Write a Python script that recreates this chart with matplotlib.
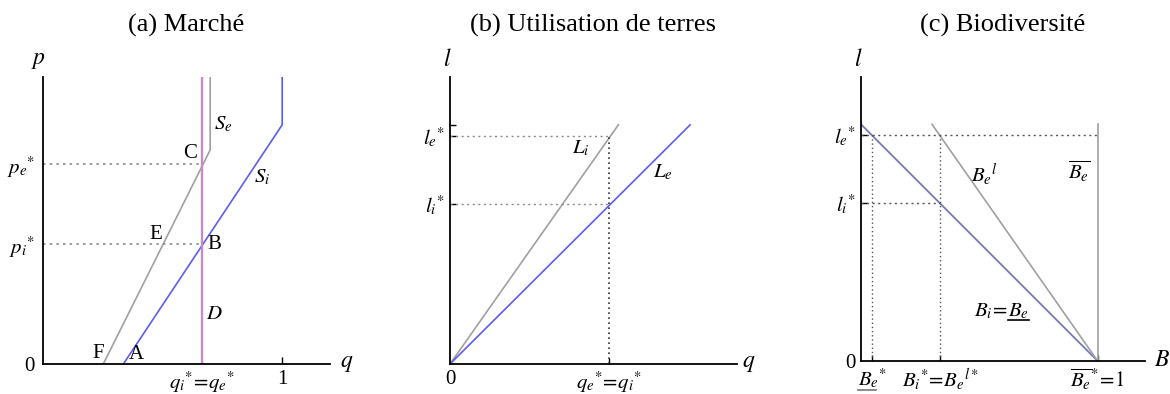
import numpy as np
import matplotlib
matplotlib.use("Agg")
import matplotlib.pyplot as plt

plt.rcParams['font.family'] = ['Liberation Serif', 'DejaVu Serif']
plt.rcParams['mathtext.fontset'] = 'stix'

# (a) market
q_star = 0.665
p_e_star = 0.835
p_i_star = 0.5
se_q = [0.252, 0.699, 0.699]
se_p = [0.0, 0.895, 1.2]
si_q = [0.336, 1.0, 1.0]
si_p = [0.0, 1.0, 1.2]
dem_q = [q_star, q_star]
dem_p = [0.0, 1.2]

# (b) land use
l_e_star = 0.954
l_i_star = 0.669
li_q = [0.0, 0.704]
li_l = [0.0, 1.0]
le_q = [0.0, 1.004]
le_l = [0.0, 1.0]

# (c) biodiversity
bi_B = [0.0, 1.0]
bi_l = [1.0, 0.0]
bel_B = [0.30, 1.0]
bel_l = [1.0, 0.0]
bbar_B = [1.0, 1.0]
bbar_l = [0.0, 1.0]
B_e_star = 0.048
B_i_star = 0.335
c_l_e_star = 0.955
c_l_i_star = 0.669

GREY = '#a0a0a0'
BLUE = '#5c5cf2'
PURPLE = '#c68cca'
SLATE = '#7878b8'
DOT = '#8a8a8a'
FS = 15
TFS = 19

fig = plt.figure(figsize=(11.7, 3.94), dpi=100)
W, H = 1170, 394


def make_ax(x0, y0, w, h):
    ax = fig.add_axes([x0 / W, (H - y0) / H, w / W, h / H])
    ax.set_xlim(0, 1.2)
    ax.set_ylim(0, 1.2)
    for s in ['top', 'right']:
        ax.spines[s].set_visible(False)
    for s in ['left', 'bottom']:
        ax.spines[s].set_linewidth(1.3)
    ax.tick_params(direction='in', length=4, width=1, labelsize=FS, pad=4)
    return ax


# ---- (a)
ax = make_ax(43, 364, 287, 287)
ax.plot(se_q, se_p, color=GREY, lw=1.2)
ax.plot(si_q, si_p, color=BLUE, lw=1.2)
ax.plot(dem_q, dem_p, color=PURPLE, lw=1.7)
for p in [p_e_star, p_i_star]:
    ax.plot([0, q_star], [p, p], color=DOT, lw=1.2, ls=(0, (1.5, 2.5)))
ax.set_xticks([q_star, 1.0], [r'$q_i{}^{*}\!=\!q_e{}^{*}$', '1'])
ax.set_yticks([0, p_i_star, p_e_star], ['0', r'$p_i{}^{*}$', r'$p_e{}^{*}$'])
ax.tick_params(axis='y', length=0, pad=6)
ax.tick_params(axis='x', length=5)
ax.get_xticklines()[0].set_visible(False)
ax.get_xticklines()[1].set_visible(False)
ax.text(1.27, 0.0, r'$q$', fontsize=FS + 2, va='center', ha='center')
ax.text(-0.02, 1.27, r'$p$', fontsize=FS + 2, va='center', ha='center')
ax.text(0.615, 0.88, 'C', fontsize=FS, ha='center', va='center')
ax.text(0.755, 1.0, r'$S_e$', fontsize=FS, ha='center', va='center')
ax.text(0.915, 0.78, r'$S_i$', fontsize=FS, ha='center', va='center')
ax.text(0.47, 0.54, 'E', fontsize=FS, ha='center', va='center')
ax.text(0.715, 0.5, 'B', fontsize=FS, ha='center', va='center')
ax.text(0.715, 0.205, r'$D$', fontsize=FS, ha='center', va='center')
ax.text(0.23, 0.045, 'F', fontsize=FS, ha='center', va='center')
ax.text(0.39, 0.04, 'A', fontsize=FS, ha='center', va='center')
fig.text(186 / W, (H - 25) / H, '(a) Marché', fontsize=TFS, ha='center', va='center')

# ---- (b)
ax = make_ax(450, 364, 287, 287)
ax.plot(li_q, li_l, color=GREY, lw=1.2)
ax.plot(le_q, le_l, color=BLUE, lw=1.2)
for l in [l_e_star, l_i_star]:
    ax.plot([0, q_star], [l, l], color=DOT, lw=1.0, ls=(0, (1.5, 2.5)))
ax.plot([q_star, q_star], [0, l_e_star], color='#333333', lw=1.2, ls=(0, (1, 2)))
ax.set_xticks([0, q_star], ['0', r'$q_e{}^{*}\!=\!q_i{}^{*}$'])
ax.set_yticks([l_i_star, l_e_star, 1.0], [r'$l_i{}^{*}$', r'$l_e{}^{*}$', ''])
ax.get_xticklines()[0].set_visible(False)
ax.text(1.25, 0.0, r'$q$', fontsize=FS + 2, va='center', ha='center')
ax.text(-0.01, 1.27, r'$l$', fontsize=FS + 2, va='center', ha='center')
ax.text(0.545, 0.9, r'$L_i$', fontsize=FS, ha='center', va='center')
ax.text(0.89, 0.80, r'$L_e$', fontsize=FS, ha='center', va='center')
fig.text(593 / W, (H - 25) / H, '(b) Utilisation de terres', fontsize=TFS, ha='center', va='center')

# ---- (c)
ax = make_ax(861, 361, 284, 284)
ax.plot(bi_B, bi_l, color=SLATE, lw=1.3)
ax.plot(bel_B, bel_l, color=GREY, lw=1.2)
ax.plot(bbar_B, bbar_l, color=GREY, lw=1.2)
ax.plot([0, 1.0], [c_l_e_star, c_l_e_star], color='#555555', lw=1.0, ls=(0, (1.5, 2.5)))
ax.plot([0, B_i_star], [c_l_i_star, c_l_i_star], color='#555555', lw=1.0, ls=(0, (1.5, 2.5)))
for b in [B_e_star, B_i_star]:
    ax.plot([b, b], [0, c_l_e_star], color='#555555', lw=1.0, ls=(0, (1, 2)))
ax.set_xticks([B_e_star, B_i_star, 1.0],
              [r'$B_e{}^{*}$', r'$B_i{}^{*}\!=\!B_e{}^{l*}$', r'$\overline{B_e}{}^{*}\!=\!1$'])
ax.set_yticks([0, c_l_i_star, c_l_e_star], ['0', r'$l_i{}^{*}$', r'$l_e{}^{*}$'])
ax.get_yticklines()[0].set_visible(False)
ax.text(1.27, 0.0, r'$B$', fontsize=FS + 2, va='center', ha='center')
ax.text(-0.01, 1.27, r'$l$', fontsize=FS + 2, va='center', ha='center')
ax.text(0.52, 0.79, r'$B_e{}^{l}$', fontsize=FS, ha='center', va='center')
ax.text(0.92, 0.80, r'$\overline{B_e}$', fontsize=FS, ha='center', va='center')
t1 = ax.text(0.62, 0.21, r'$B_i\!=\!$', fontsize=FS, ha='right', va='center')
t2 = ax.text(0.62, 0.21, r'$B_e$', fontsize=FS, ha='left', va='center')

# underline the lower bound labels
fig.canvas.draw()
r = fig.canvas.get_renderer()
tick_lab = ax.get_xticklabels()[0]
for t in [t2, tick_lab]:
    bb = t.get_window_extent(r)
    x1 = bb.x0 + 0.62 * bb.width if t is tick_lab else bb.x1
    fig.add_artist(plt.Line2D([bb.x0 / W, x1 / W], [(bb.y0 + 1) / H, (bb.y0 + 1) / H],
                              color='#777777' if t is tick_lab else 'black', lw=1.2))
fig.text(1003 / W, (H - 25) / H, '(c) Biodiversité', fontsize=TFS, ha='center', va='center')

fig.savefig('out.png', dpi=100)
